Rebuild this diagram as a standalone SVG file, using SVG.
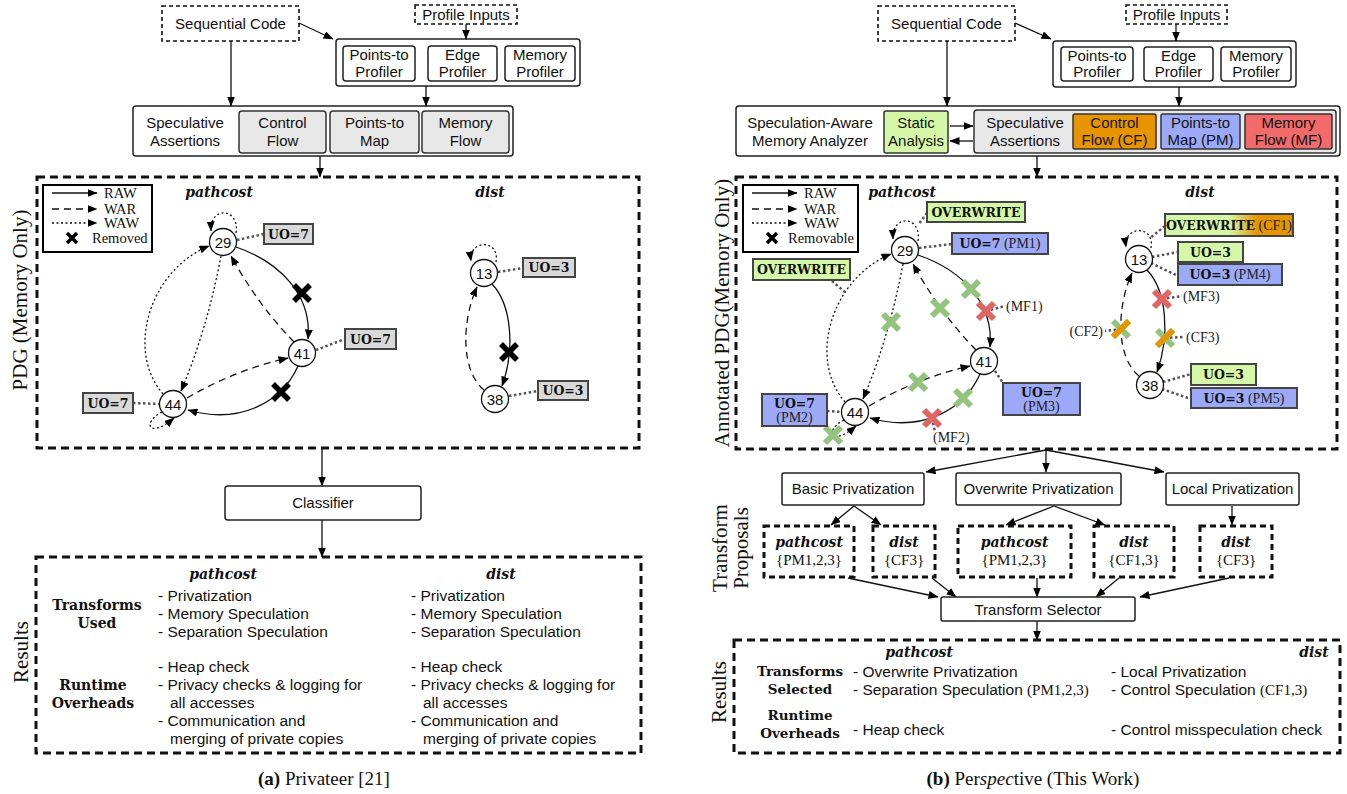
<svg xmlns="http://www.w3.org/2000/svg" width="1347" height="794" viewBox="0 0 1347 794">
<defs>
<style>
.sans{font-family:"Liberation Sans",Arial,sans-serif;font-size:15px;fill:#111}
.rs{font-family:"Liberation Sans",Arial,sans-serif;font-size:15.5px;fill:#111}
.serif{font-family:"Liberation Serif","Times New Roman",serif;fill:#111}
.lgt{font-family:"Liberation Serif","Times New Roman",serif;font-size:14.5px;fill:#111}
.bs{font-family:"DejaVu Serif",serif;font-weight:bold;font-size:12.5px;fill:#111}
.hd{font-family:"DejaVu Serif",serif;font-weight:bold;font-size:14px;fill:#111}
.hd2{font-family:"DejaVu Serif",serif;font-weight:bold;font-size:13.5px;fill:#111}
.bi{font-family:"DejaVu Serif",serif;font-weight:bold;font-style:italic;font-size:14px;fill:#111}
.ann{font-family:"Liberation Serif","Times New Roman",serif;font-size:14px;fill:#222}
.annb{font-family:"Liberation Serif","Times New Roman",serif;font-size:14px;font-weight:normal;fill:#222}
.vl{font-family:"Liberation Serif","Times New Roman",serif;font-size:21px;fill:#111}
.box{fill:#fff;stroke:#222;stroke-width:1.5}
.gbox{fill:#e8e8e8;stroke:#333;stroke-width:1.5}
.tdash{fill:#fff;stroke:#111;stroke-width:1.6;stroke-dasharray:4 3}
.kdash{fill:none;stroke:#111;stroke-width:3;stroke-dasharray:8 5}
.pdash{fill:#fff;stroke:#111;stroke-width:3;stroke-dasharray:6 4}
.fl{stroke:#111;stroke-width:1.3;fill:none;marker-end:url(#ah)}
.raw{stroke:#111;stroke-width:1.3;fill:none;marker-end:url(#ah)}
.war{stroke:#111;stroke-width:1.3;fill:none;stroke-dasharray:7 5;marker-end:url(#ah)}
.waw{stroke:#111;stroke-width:1.3;fill:none;stroke-dasharray:2 2.5;marker-end:url(#ah)}
.dl{stroke:#555;stroke-width:2.5;stroke-dasharray:2.5 2.5;fill:none}
.nd{fill:#fff;stroke:#111;stroke-width:1.3}
.lg{fill:#d9d9d9;stroke:#444;stroke-width:2}
.gr{fill:#d5f7a8;stroke:#444;stroke-width:2}
.bl{fill:#9ca9f7;stroke:#444;stroke-width:2}
.xk{stroke:#000;stroke-width:5.5;fill:none}
.xl{stroke:#000;stroke-width:3.5;fill:none}
.xg{stroke:#93c47d;stroke-width:6;fill:none}
.xr{stroke:#e06666;stroke-width:6;fill:none}
.xo{stroke:#e69500;stroke-width:6;fill:none}
</style>
<marker id="ah" viewBox="0 0 10 8" refX="9.5" refY="4" markerWidth="10" markerHeight="8" markerUnits="userSpaceOnUse" orient="auto"><path d="M0,0 L10,4 L0,8 z" fill="#000"/></marker>
<path id="xm" d="M-8,-8 L8,8 M-8,8 L8,-8"/>
<path id="xs" d="M-5,-5 L5,5 M-5,5 L5,-5"/>
<path id="xo" d="M-8,8 L8,-8"/>
<linearGradient id="owg" x1="0" y1="0" x2="1" y2="0"><stop offset="0.5" stop-color="#d5f7a8"/><stop offset="0.72" stop-color="#e69500"/></linearGradient>
</defs>
<rect width="1347" height="794" fill="#fff"/>

<!-- ================= PANEL (a) ================= -->
<g id="a-seq"><rect class="tdash" x="162" y="6" width="137" height="35"/><text class="sans" x="230.5" y="28.5" text-anchor="middle">Sequential Code</text></g>
<g id="a-profile-inputs"><rect class="tdash" x="415" y="5" width="102" height="19"/><text class="sans" x="466" y="19.5" text-anchor="middle">Profile Inputs</text></g>
<g id="a-profilers">
<rect class="box" x="336" y="39" width="244" height="47" rx="3"/>
<rect class="box" x="343" y="46" width="72" height="35" rx="3"/><text class="sans" x="379" y="60" text-anchor="middle">Points-to</text><text class="sans" x="379" y="76.5" text-anchor="middle">Profiler</text>
<rect class="box" x="428" y="46" width="69" height="35" rx="3"/><text class="sans" x="462.5" y="60" text-anchor="middle">Edge</text><text class="sans" x="462.5" y="76.5" text-anchor="middle">Profiler</text>
<rect class="box" x="505" y="46" width="70" height="35" rx="3"/><text class="sans" x="540" y="60" text-anchor="middle">Memory</text><text class="sans" x="540" y="76.5" text-anchor="middle">Profiler</text>
</g>
<g id="a-spec">
<rect class="box" x="133" y="106" width="380" height="50" rx="3"/>
<text class="sans" x="185" y="128" text-anchor="middle">Speculative</text><text class="sans" x="185" y="146" text-anchor="middle">Assertions</text>
<rect class="gbox" x="239" y="111" width="87" height="42" rx="3"/><text class="sans" x="282.5" y="128" text-anchor="middle">Control</text><text class="sans" x="282.5" y="146" text-anchor="middle">Flow</text>
<rect class="gbox" x="330" y="111" width="89" height="42" rx="3"/><text class="sans" x="374.5" y="128" text-anchor="middle">Points-to</text><text class="sans" x="374.5" y="146" text-anchor="middle">Map</text>
<rect class="gbox" x="422" y="111" width="87" height="42" rx="3"/><text class="sans" x="465.5" y="128" text-anchor="middle">Memory</text><text class="sans" x="465.5" y="146" text-anchor="middle">Flow</text>
</g>
<g id="a-pdg">
<rect class="kdash" x="37" y="177" width="602" height="271"/>
<text class="vl" transform="translate(27,300) rotate(-90)" text-anchor="middle">PDG (Memory Only)</text>
<text class="bi" x="219" y="197" text-anchor="middle">pathcost</text>
<text class="bi" x="490" y="197" text-anchor="middle">dist</text>
</g>
<g id="a-legend">
<rect x="43" y="185" width="109" height="67" fill="#fff" stroke="#000" stroke-width="2"/>
<path class="raw" d="M52,193 L97,193"/><path class="war" d="M52,209 L97,209"/><path class="waw" d="M52,223 L97,223"/>
<use href="#xs" x="72" y="238" class="xl"/>
<text class="lgt" x="104" y="198">RAW</text>
<text class="lgt" x="104" y="214">WAR</text>
<text class="lgt" x="104" y="228">WAW</text>
<text class="lgt" x="92" y="243">Removed</text>
</g>

<g id="a-connectors">
<path class="fl" d="M299,23 L333,39"/>
<path class="fl" d="M466,24 L466,39"/>
<path class="fl" d="M231,41 L231,106"/>
<path class="fl" d="M426,86 L426,106"/>
<path class="fl" d="M320,156 L320,177"/>
<path class="fl" d="M322,448 L322,486"/>
<path class="fl" d="M322,520 L322,557"/>
<g id="a-edges">
<path class="raw" d="M236,247 C 280,262 312,295 308,339"/>
<path class="war" d="M294,342 Q 258,305 231,256"/>
<path class="waw" d="M221,256 Q 207,330 181,391"/>
<path class="waw" d="M163,394 C 125,350 150,270 209,246"/>
<path class="war" d="M187,398 Q 235,370 288,358"/>
<path class="raw" d="M298,366 C 282,402 240,425 188,410"/>
<path class="waw" d="M162,412 C 142,422 148,440 174,418"/>
<path class="waw" d="M236,233 C 240,208 210,205 211,231"/>
<path class="raw" d="M492,284 C 512,305 515,350 502,386"/>
<path class="war" d="M484,390 C 460,370 462,320 477,287"/>
<path class="waw" d="M496,262 C 500,238 468,240 471,261"/>
</g>
<path class="dl" d="M237,240 L264,234"/>
<path class="dl" d="M316,350 L345,339"/>
<path class="dl" d="M133,403 L160,404"/>
<path class="dl" d="M498,272 L523,268"/>
<path class="dl" d="M509,396 L538,391"/>
<use href="#xm" x="302" y="293" class="xk"/>
<use href="#xm" x="281" y="392" class="xk"/>
<use href="#xm" x="509" y="352" class="xk"/>
</g>

<g id="a-n29"><circle class="nd" cx="223" cy="242" r="13.5"/><text class="sans" x="223" y="247.5" text-anchor="middle">29</text></g>
<g id="a-n41"><circle class="nd" cx="302" cy="353" r="13.5"/><text class="sans" x="302" y="358.5" text-anchor="middle">41</text></g>
<g id="a-n44"><circle class="nd" cx="173" cy="404" r="13.5"/><text class="sans" x="173" y="409.5" text-anchor="middle">44</text></g>
<g id="a-n13"><circle class="nd" cx="484" cy="273" r="13.5"/><text class="sans" x="484" y="278.5" text-anchor="middle">13</text></g>
<g id="a-n38"><circle class="nd" cx="495" cy="399" r="13.5"/><text class="sans" x="495" y="404.5" text-anchor="middle">38</text></g>
<g id="a-uo29"><rect class="lg" x="264" y="224" width="49" height="20"/><text class="bs" x="288.5" y="238.5" text-anchor="middle">UO=7</text></g>
<g id="a-uo41"><rect class="lg" x="345" y="329" width="51" height="20"/><text class="bs" x="370.5" y="343.5" text-anchor="middle">UO=7</text></g>
<g id="a-uo44"><rect class="lg" x="83" y="393" width="50" height="20"/><text class="bs" x="108" y="407.5" text-anchor="middle">UO=7</text></g>
<g id="a-uo13"><rect class="lg" x="523" y="258" width="52" height="19"/><text class="bs" x="549" y="272" text-anchor="middle">UO=3</text></g>
<g id="a-uo38"><rect class="lg" x="538" y="381" width="50" height="19"/><text class="bs" x="563" y="395" text-anchor="middle">UO=3</text></g>

<g id="a-classifier"><rect class="box" x="225" y="486" width="196" height="34" rx="3"/><text class="sans" x="323" y="508" text-anchor="middle">Classifier</text></g>
<g id="a-results">
<rect class="kdash" x="36" y="557" width="605" height="196"/>
<text class="vl" transform="translate(28,652) rotate(-90)" text-anchor="middle" font-size="22">Results</text>
<text class="bi" x="223" y="579" text-anchor="middle">pathcost</text>
<text class="bi" x="501" y="579" text-anchor="middle">dist</text>
<text class="hd" x="97" y="610" text-anchor="middle">Transforms</text>
<text class="hd" x="97" y="628" text-anchor="middle">Used</text>
<text class="hd" x="93" y="690" text-anchor="middle">Runtime</text>
<text class="hd" x="93" y="708" text-anchor="middle">Overheads</text>
<g class="rs">
<text x="158" y="601">- Privatization</text>
<text x="158" y="619">- Memory Speculation</text>
<text x="158" y="637">- Separation Speculation</text>
<text x="158" y="672">- Heap check</text>
<text x="158" y="690">- Privacy checks &amp; logging for</text>
<text x="170" y="708">all accesses</text>
<text x="158" y="726">- Communication and</text>
<text x="170" y="744">merging of private copies</text>
<text x="411" y="601">- Privatization</text>
<text x="411" y="619">- Memory Speculation</text>
<text x="411" y="637">- Separation Speculation</text>
<text x="411" y="672">- Heap check</text>
<text x="411" y="690">- Privacy checks &amp; logging for</text>
<text x="423" y="708">all accesses</text>
<text x="411" y="726">- Communication and</text>
<text x="423" y="744">merging of private copies</text>
</g>
</g>
<text class="serif" font-size="19" x="324" y="785" text-anchor="middle"><tspan font-weight="bold">(a)</tspan> Privateer [21]</text>

<!-- ================= PANEL (b) ================= -->
<g id="b-seq"><rect class="tdash" x="878" y="6" width="137" height="35"/><text class="sans" x="946.5" y="28.5" text-anchor="middle">Sequential Code</text></g>
<g id="b-profile-inputs"><rect class="tdash" x="1126" y="5" width="101" height="19"/><text class="sans" x="1176.5" y="19.5" text-anchor="middle">Profile Inputs</text></g>
<g id="b-profilers">
<rect class="box" x="1053" y="41" width="243" height="46" rx="3"/>
<rect class="box" x="1061" y="47" width="72" height="34" rx="3"/><text class="sans" x="1097" y="61" text-anchor="middle">Points-to</text><text class="sans" x="1097" y="77" text-anchor="middle">Profiler</text>
<rect class="box" x="1144" y="47" width="69" height="34" rx="3"/><text class="sans" x="1178.5" y="61" text-anchor="middle">Edge</text><text class="sans" x="1178.5" y="77" text-anchor="middle">Profiler</text>
<rect class="box" x="1221" y="47" width="70" height="34" rx="3"/><text class="sans" x="1256" y="61" text-anchor="middle">Memory</text><text class="sans" x="1256" y="77" text-anchor="middle">Profiler</text>
</g>
<g id="b-analyzer">
<rect class="box" x="736" y="106" width="604" height="50" rx="3"/>
<text class="sans" x="810" y="128" text-anchor="middle">Speculation-Aware</text><text class="sans" x="810" y="146" text-anchor="middle">Memory Analyzer</text>
</g>
<g id="b-static"><rect x="884" y="111" width="64" height="42" rx="2" fill="#d5f7a8" stroke="#333" stroke-width="1.5"/><text class="sans" x="916" y="128" text-anchor="middle">Static</text><text class="sans" x="916" y="146" text-anchor="middle">Analysis</text></g>
<g id="b-spec">
<rect class="gbox" x="974" y="110" width="362" height="43" rx="3"/>
<text class="sans" x="1025" y="128" text-anchor="middle">Speculative</text><text class="sans" x="1025" y="146" text-anchor="middle">Assertions</text>
<rect x="1073" y="114" width="83" height="35" rx="2" fill="#e69500" stroke="#333" stroke-width="1.5"/><text class="sans" x="1114.5" y="128" text-anchor="middle">Control</text><text class="sans" x="1114.5" y="145" text-anchor="middle">Flow (CF)</text>
<rect x="1161" y="114" width="79" height="35" rx="2" fill="#9ca9f7" stroke="#333" stroke-width="1.5"/><text class="sans" x="1200.5" y="128" text-anchor="middle">Points-to</text><text class="sans" x="1200.5" y="145" text-anchor="middle">Map (PM)</text>
<rect x="1245" y="114" width="87" height="35" rx="2" fill="#f26b6b" stroke="#333" stroke-width="1.5"/><text class="sans" x="1288.5" y="128" text-anchor="middle">Memory</text><text class="sans" x="1288.5" y="145" text-anchor="middle">Flow (MF)</text>
</g>
<g id="b-pdg">
<rect class="kdash" x="736" y="177" width="601" height="272"/>
<text class="vl" transform="translate(729,313) rotate(-90)" text-anchor="middle" font-size="22">Annotated PDG(Memory Only)</text>
<text class="bi" x="902" y="197" text-anchor="middle">pathcost</text>
<text class="bi" x="1200" y="197" text-anchor="middle">dist</text>
</g>
<g id="b-legend">
<rect x="743" y="185" width="115" height="67" fill="#fff" stroke="#000" stroke-width="2"/>
<path class="raw" d="M752,193 L797,193"/><path class="war" d="M752,209 L797,209"/><path class="waw" d="M752,223 L797,223"/>
<use href="#xs" x="772" y="238" class="xl"/>
<text class="lgt" x="804" y="198">RAW</text>
<text class="lgt" x="804" y="214">WAR</text>
<text class="lgt" x="804" y="228">WAW</text>
<text class="lgt" x="788" y="243">Removable</text>
</g>

<g id="b-connectors">
<path class="fl" d="M1015,23 L1051,39"/>
<path class="fl" d="M1176,24 L1176,41"/>
<path class="fl" d="M947,41 L947,106"/>
<path class="fl" d="M1179,87 L1179,106"/>
<path class="fl" d="M950,126 L973,126"/>
<path class="fl" d="M973,141 L950,141"/>
<path class="fl" d="M1037,156 L1037,177"/>
<path class="fl" d="M1046,450 L926,472"/>
<path class="fl" d="M1046,450 L1046,472"/>
<path class="fl" d="M1046,450 L1164,472"/>
<path class="fl" d="M854,506 L831,525"/>
<path class="fl" d="M854,506 L881,525"/>
<path class="fl" d="M1054,506 L1006,525"/>
<path class="fl" d="M1054,506 L1105,525"/>
<path class="fl" d="M1232,506 L1232,525"/>
<path class="fl" d="M848,578 L938,597"/>
<path class="fl" d="M932,578 L956,597"/>
<path class="fl" d="M1037,578 L1037,597"/>
<path class="fl" d="M1119,578 L1096,597"/>
<path class="fl" d="M1229,578 L1140,597"/>
<path class="fl" d="M1037,621 L1037,640"/>
<g id="b-edges-pathcost" transform="translate(682,8)">
<path class="raw" d="M236,247 C 280,262 312,295 308,339"/>
<path class="war" d="M294,342 Q 258,305 231,256"/>
<path class="waw" d="M221,256 Q 207,330 181,391"/>
<path class="waw" d="M163,394 C 125,350 150,270 209,246"/>
<path class="war" d="M187,398 Q 235,370 288,358"/>
<path class="raw" d="M298,366 C 282,402 240,425 188,410"/>
<path class="waw" d="M162,412 C 142,422 148,440 174,418"/>
<path class="waw" d="M236,233 C 240,208 210,205 211,231"/>
</g>
<g id="b-edges-dist" transform="translate(655,-14)">
<path class="raw" d="M492,284 C 512,305 515,350 502,386"/>
<path class="war" d="M484,390 C 460,370 462,320 477,287"/>
<path class="waw" d="M496,262 C 500,238 468,240 471,261"/>
</g>
<path class="dl" d="M919,248 L952,244"/>
<path class="dl" d="M927,213 L918,225"/>
<path class="dl" d="M832,281 L846,293"/>
<path class="dl" d="M827,411 L842,412"/>
<path class="dl" d="M995,371 L1003,383"/>
<path class="dl" d="M1165,226 L1150,238"/>
<path class="dl" d="M1152,257 L1178,252"/>
<path class="dl" d="M1151,263 L1178,276"/>
<path class="dl" d="M1163,382 L1191,374"/>
<path class="dl" d="M1162,389 L1191,399"/>
<path class="dl" d="M986,311 L1005,306"/>
<path class="dl" d="M932,418 L935,432"/>
<path class="dl" d="M1162,299 L1182,296"/>
<path class="dl" d="M1165,338 L1184,337"/>
<path class="dl" d="M1121,329 L1105,331"/>
<use href="#xm" x="971" y="289" class="xg"/>
<use href="#xm" x="940" y="308" class="xg"/>
<use href="#xm" x="891" y="322" class="xg"/>
<use href="#xm" x="918" y="382" class="xg"/>
<use href="#xm" x="963" y="398" class="xg"/>
<use href="#xm" x="833" y="435" class="xg"/>
<use href="#xm" x="986" y="311" class="xr"/>
<use href="#xm" x="932" y="418" class="xr"/>
<use href="#xm" x="1162" y="299" class="xr"/>
<use href="#xm" x="1121" y="329" class="xg"/>
<use href="#xo" x="1121" y="329" class="xo"/>
<use href="#xm" x="1165" y="338" class="xg"/>
<use href="#xo" x="1165" y="338" class="xo"/>
<text class="ann" x="1006" y="310.5">(MF1)</text>
<text class="ann" x="933" y="442">(MF2)</text>
<text class="ann" x="1183" y="301">(MF3)</text>
<text class="ann" x="1186" y="342">(CF3)</text>
<text class="ann" x="1103" y="336" text-anchor="end">(CF2)</text>
</g>

<g id="b-n29"><circle class="nd" cx="905" cy="250" r="13.5"/><text class="sans" x="905" y="255.5" text-anchor="middle">29</text></g>
<g id="b-n41"><circle class="nd" cx="984" cy="361" r="13.5"/><text class="sans" x="984" y="366.5" text-anchor="middle">41</text></g>
<g id="b-n44"><circle class="nd" cx="855" cy="412" r="13.5"/><text class="sans" x="855" y="417.5" text-anchor="middle">44</text></g>
<g id="b-n13"><circle class="nd" cx="1139" cy="259" r="13.5"/><text class="sans" x="1139" y="264.5" text-anchor="middle">13</text></g>
<g id="b-n38"><circle class="nd" cx="1150" cy="385" r="13.5"/><text class="sans" x="1150" y="390.5" text-anchor="middle">38</text></g>

<g id="b-ow29"><rect class="gr" x="927" y="202" width="98" height="20"/><text class="bs" x="976" y="216.5" text-anchor="middle">OVERWRITE</text></g>
<g id="b-pm1"><rect class="bl" x="952" y="233" width="96" height="21"/><text class="bs" x="1000" y="248" text-anchor="middle">UO=7<tspan class="annb"> (PM1)</tspan></text></g>
<g id="b-ow44"><rect class="gr" x="753" y="259" width="97" height="21"/><text class="bs" x="801.5" y="274" text-anchor="middle">OVERWRITE</text></g>
<g id="b-pm2"><rect class="bl" x="762" y="394" width="65" height="32"/><text class="bs" x="794.5" y="407.5" text-anchor="middle">UO=7</text><text class="ann" x="794.5" y="421.5" text-anchor="middle">(PM2)</text></g>
<g id="b-pm3"><rect class="bl" x="1003" y="383" width="77" height="32"/><text class="bs" x="1041.5" y="396.5" text-anchor="middle">UO=7</text><text class="ann" x="1041.5" y="410.5" text-anchor="middle">(PM3)</text></g>
<g id="b-ow13"><rect x="1165" y="214" width="128" height="22" fill="url(#owg)" stroke="#444" stroke-width="2"/><text class="bs" x="1229" y="229.5" text-anchor="middle">OVERWRITE<tspan class="annb"> (CF1)</tspan></text></g>
<g id="b-uo13"><rect class="gr" x="1178" y="242" width="65" height="20"/><text class="bs" x="1210.5" y="256.5" text-anchor="middle">UO=3</text></g>
<g id="b-pm4"><rect class="bl" x="1178" y="264" width="104" height="21"/><text class="bs" x="1230" y="279" text-anchor="middle">UO=3<tspan class="annb"> (PM4)</tspan></text></g>
<g id="b-uo38"><rect class="gr" x="1191" y="364" width="65" height="21"/><text class="bs" x="1223.5" y="379" text-anchor="middle">UO=3</text></g>
<g id="b-pm5"><rect class="bl" x="1191" y="388" width="106" height="20"/><text class="bs" x="1244" y="402.5" text-anchor="middle">UO=3<tspan class="annb"> (PM5)</tspan></text></g>

<g id="b-proposals-label"><text class="vl" font-size="22" transform="translate(727,548) rotate(-90)" text-anchor="middle">Transform</text><text class="vl" font-size="22" transform="translate(748,548) rotate(-90)" text-anchor="middle">Proposals</text></g>
<g id="b-basic"><rect class="box" x="782" y="473" width="142" height="32" rx="2"/><text class="sans" x="853" y="494" text-anchor="middle">Basic Privatization</text></g>
<g id="b-overwrite"><rect class="box" x="956" y="473" width="165" height="32" rx="2"/><text class="sans" x="1038.5" y="494" text-anchor="middle">Overwrite Privatization</text></g>
<g id="b-local"><rect class="box" x="1166" y="473" width="133" height="32" rx="2"/><text class="sans" x="1232.5" y="494" text-anchor="middle">Local Privatization</text></g>
<g id="b-p1"><rect class="pdash" x="764" y="526" width="90" height="51"/><text class="bi" x="809" y="547" text-anchor="middle">pathcost</text><text class="serif" font-size="15" x="809" y="565" text-anchor="middle">{PM1,2,3}</text></g>
<g id="b-p2"><rect class="pdash" x="873" y="526" width="62" height="51"/><text class="bi" x="904" y="547" text-anchor="middle">dist</text><text class="serif" font-size="15" x="904" y="565" text-anchor="middle">{CF3}</text></g>
<g id="b-p3"><rect class="pdash" x="958" y="526" width="113" height="51"/><text class="bi" x="1014.5" y="547" text-anchor="middle">pathcost</text><text class="serif" font-size="15" x="1014.5" y="565" text-anchor="middle">{PM1,2,3}</text></g>
<g id="b-p4"><rect class="pdash" x="1094" y="526" width="80" height="51"/><text class="bi" x="1134" y="547" text-anchor="middle">dist</text><text class="serif" font-size="15" x="1134" y="565" text-anchor="middle">{CF1,3}</text></g>
<g id="b-p5"><rect class="pdash" x="1200" y="526" width="72" height="51"/><text class="bi" x="1236" y="547" text-anchor="middle">dist</text><text class="serif" font-size="15" x="1236" y="565" text-anchor="middle">{CF3}</text></g>
<g id="b-selector"><rect class="box" x="941" y="597" width="194" height="24" rx="2"/><text class="sans" x="1038" y="614.5" text-anchor="middle">Transform Selector</text></g>

<g id="b-results">
<rect class="kdash" x="734" y="640" width="606" height="113"/>
<text class="vl" transform="translate(726,692) rotate(-90)" text-anchor="middle" font-size="22">Results</text>
<text class="bi" x="919" y="657" text-anchor="middle">pathcost</text>
<text class="bi" x="1314" y="657" text-anchor="middle">dist</text>
<text class="hd2" x="800" y="676" text-anchor="middle">Transforms</text>
<text class="hd2" x="800" y="694" text-anchor="middle">Selected</text>
<text class="hd2" x="800" y="720" text-anchor="middle">Runtime</text>
<text class="hd2" x="800" y="738" text-anchor="middle">Overheads</text>
<g class="rs">
<text x="853" y="677">- Overwrite Privatization</text>
<text x="853" y="695">- Separation Speculation <tspan class="serif" font-size="15">(PM1,2,3)</tspan></text>
<text x="853" y="735">- Heap check</text>
<text x="1111" y="677">- Local Privatization</text>
<text x="1111" y="695">- Control Speculation <tspan class="serif" font-size="15">(CF1,3)</tspan></text>
<text x="1111" y="735">- Control misspeculation check</text>
</g>
</g>
<text class="serif" font-size="19" x="1033" y="785" text-anchor="middle"><tspan font-weight="bold">(b)</tspan> Per<tspan font-style="italic">spec</tspan>tive (This Work)</text>
</svg>
